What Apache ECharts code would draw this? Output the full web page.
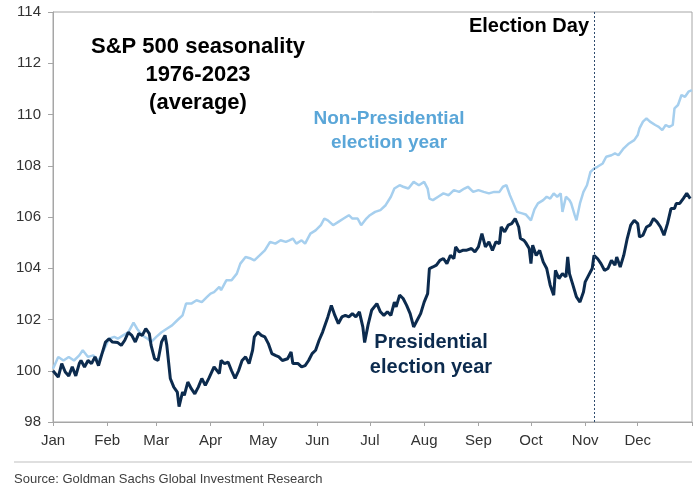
<!DOCTYPE html>
<html>
<head>
<meta charset="utf-8">
<script src="https://cdn.jsdelivr.net/npm/echarts@6/dist/echarts.min.js"></script>
<style>
  html, body { margin: 0; padding: 0; background: #fff; }
  #chart { width: 699px; height: 489px; }
</style>
</head>
<body>
<div id="chart"></div>
<script>
// month ticks, day of year (non-leap)
var monthStarts = [0, 31, 59, 90, 120, 151, 181, 212, 243, 273, 304, 334, 365];
var monthLabels = ['Jan', 'Feb', 'Mar', 'Apr', 'May', 'Jun', 'Jul', 'Aug', 'Sep', 'Oct', 'Nov', 'Dec'];
var electionDay = 309;

// Presidential election year
var presDays = [0,3,5,7,9,11,13,15,16,18,20,22,24,26,28,30,32,34,35,37,39,41,43,45,47,49,51,53,55,56,58,60,62,64,65,67,69,71,72,74,75,77,79,81,83,85,87,89,92,95,96,98,100,102,104,106,108,110,112,114,115,117,119,121,123,125,127,129,131,134,136,137,140,142,144,146,148,150,152,154,155,157,159,161,163,165,167,169,171,173,175,177,178,180,182,185,187,189,191,193,195,196,198,200,202,204,206,208,210,212,214,215,217,219,221,223,225,227,229,230,232,234,236,237,239,241,243,245,247,249,251,253,255,256,258,260,262,264,266,267,269,270,272,273,274,276,278,280,282,284,286,287,289,291,293,294,295,297,299,301,303,304,306,308,309,311,313,315,317,319,321,322,324,326,328,330,332,334,335,337,339,341,343,345,347,349,351,353,355,356,358,360,362,364];
var presValues = [100.0,99.75,100.28,99.95,99.8,100.15,99.8,100.28,100.4,100.15,100.4,100.28,100.54,100.2,100.67,101.12,101.25,101.12,101.06,101.1,100.99,101.19,101.5,101.38,101.12,101.45,101.38,101.64,101.45,101.0,100.47,100.4,101.12,101.38,101.0,99.7,99.36,99.17,98.6,99.17,99.04,99.56,99.3,99.1,99.36,99.7,99.43,99.7,100.15,99.89,100.4,100.28,100.34,100.0,99.7,100.0,100.4,100.54,100.28,100.8,101.32,101.51,101.38,101.32,101.06,100.67,100.6,100.54,100.4,100.47,100.73,100.28,100.28,100.15,100.2,100.4,100.67,100.8,101.19,101.51,101.71,102.1,102.55,102.16,101.84,102.1,102.16,102.1,102.23,102.1,102.3,101.7,101.1,101.8,102.36,102.62,102.3,102.16,102.3,102.16,102.68,102.49,102.95,102.82,102.55,102.23,101.71,101.97,102.23,102.68,103.01,103.99,104.05,104.12,104.31,104.38,104.18,104.5,104.38,104.83,104.64,104.7,104.7,104.7,104.77,104.64,104.83,105.35,104.83,105.03,104.7,105.03,104.96,105.61,105.42,105.68,105.74,105.94,105.61,105.16,105.09,105.0,104.77,104.18,104.9,104.5,104.7,104.25,103.99,103.34,102.95,103.92,103.6,103.79,103.66,104.44,103.79,103.34,102.88,102.68,103.07,103.47,103.73,103.99,104.5,104.38,104.18,103.92,103.99,104.31,104.12,104.44,104.05,104.5,105.16,105.68,105.87,105.74,105.22,105.29,105.61,105.68,105.94,105.81,105.61,105.29,105.74,106.33,106.33,106.53,106.53,106.72,106.92,106.72];

// Non-presidential election year
var nonDays = [0,3,6,9,12,15,17,20,23,26,29,32,35,37,40,43,46,48,51,54,56,59,62,65,68,71,74,76,79,82,85,88,90,92,95,96,99,102,105,107,110,113,115,118,121,124,127,130,133,135,137,139,142,144,147,150,153,155,157,160,163,166,169,171,174,176,179,181,184,187,190,193,195,198,200,203,206,209,212,214,215,217,220,223,226,229,232,235,237,240,243,246,249,252,255,257,259,261,263,265,268,270,273,275,277,280,282,284,286,288,290,291,293,295,296,298,299,301,303,305,307,309,311,314,316,319,321,323,326,329,332,334,335,337,339,341,344,346,348,350,352,354,355,357,359,361,363,365];
var nonValues = [100.08,100.54,100.4,100.54,100.4,100.6,100.8,100.54,100.6,100.4,100.8,101.25,101.32,101.25,101.38,101.5,101.88,101.64,101.38,101.25,101.12,101.32,101.5,101.64,101.77,101.97,102.16,102.62,102.62,102.75,102.68,102.88,103.01,103.07,103.27,103.14,103.53,103.53,103.79,104.18,104.44,104.38,104.31,104.5,104.7,105.03,104.96,105.09,105.03,105.09,105.16,104.96,105.09,104.96,105.35,105.48,105.68,105.94,105.87,105.68,105.81,105.94,106.07,105.94,105.94,105.68,105.94,106.07,106.2,106.27,106.46,106.79,107.11,107.24,107.18,107.11,107.37,107.24,107.37,107.11,106.72,106.66,106.79,106.92,106.85,107.05,106.98,107.11,107.18,106.98,107.05,106.98,106.92,106.98,106.98,107.18,107.24,106.85,106.53,106.2,106.14,106.1,105.87,106.3,106.53,106.66,106.79,106.72,106.92,106.79,106.92,106.2,106.79,106.66,106.53,106.07,105.87,106.53,106.98,107.24,107.76,107.89,107.96,108.09,108.35,108.41,108.48,108.41,108.68,108.87,109.0,109.2,109.46,109.72,109.85,109.72,109.59,109.52,109.39,109.59,109.52,109.59,110.24,110.37,110.76,110.69,110.89,110.95];

function pairs(days, vals) {
  var out = [];
  for (var i = 0; i < days.length; i++) {
    out.push([days[i], vals[i]]);
  }
  return out;
}

var myChart = echarts.init(document.getElementById('chart'));
var axisColor = '#a6a6a6';
var font = 'Arial, "Liberation Sans", sans-serif';

var option = {
  animation: false,
  backgroundColor: '#fff',
  grid: {
    left: 53, right: 7, top: 12, bottom: 67,
    show: true, borderColor: axisColor, borderWidth: 1
  },
  xAxis: {
    type: 'value',
    min: 0,
    max: 365,
    axisLine: { show: true, lineStyle: { color: axisColor, width: 1 } },
    axisTick: { show: true, length: 4, customValues: monthStarts, lineStyle: { color: axisColor } },
    axisLabel: {
      customValues: monthStarts.slice(0, 12),
      color: '#333', fontSize: 15, fontFamily: font, margin: 11,
      formatter: function(v) {
        var i = monthStarts.indexOf(v);
        return i >= 0 && i < 12 ? monthLabels[i] : '';
      }
    },
    splitLine: { show: false }
  },
  yAxis: {
    type: 'value',
    min: 98,
    max: 114,
    interval: 2,
    axisLine: { show: true, lineStyle: { color: axisColor, width: 1 } },
    axisTick: { show: true, length: 5, lineStyle: { color: axisColor } },
    axisLabel: { color: '#333', fontSize: 15, fontFamily: font, margin: 12 },
    splitLine: { show: false }
  },
  series: [
    {
      name: 'Non-Presidential election year',
      type: 'line',
      data: pairs(nonDays, nonValues),
      showSymbol: false,
      lineStyle: { color: '#a6cfee', width: 2.5 },
      z: 2
    },
    {
      name: 'Presidential election year',
      type: 'line',
      data: pairs(presDays, presValues),
      showSymbol: false,
      lineStyle: { color: '#0c2b4e', width: 3 },
      z: 3,
      markLine: {
        silent: true,
        symbol: 'none',
        label: { show: false },
        lineStyle: { type: [2, 2], color: '#2f4c6e', width: 1 },
        data: [{ xAxis: electionDay }]
      }
    }
  ],
  graphic: [
    {
      type: 'text', x: 198, y: 33,
      style: {
        text: 'S&P 500 seasonality\n1976-2023\n(average)',
        font: 'bold 22px ' + font, fill: '#000', align: 'center', lineHeight: 28
      }
    },
    {
      type: 'text', x: 589, y: 16,
      style: { text: 'Election Day', font: 'bold 20px ' + font, fill: '#000', align: 'right' }
    },
    {
      type: 'text', x: 389, y: 107,
      style: {
        text: 'Non-Presidential\nelection year',
        font: 'bold 19px ' + font, fill: '#5aa6d8', align: 'center', lineHeight: 24
      }
    },
    {
      type: 'text', x: 431, y: 330,
      style: {
        text: 'Presidential\nelection year',
        font: 'bold 20px ' + font, fill: '#0c2b4e', align: 'center', lineHeight: 25
      }
    },
    {
      type: 'line',
      shape: { x1: 14, y1: 462, x2: 692, y2: 462 },
      style: { stroke: '#bfbfbf', lineWidth: 1 }
    },
    {
      type: 'text', x: 14, y: 473,
      style: {
        text: 'Source: Goldman Sachs Global Investment Research',
        font: '13px ' + font, fill: '#404040'
      }
    }
  ]
};
myChart.setOption(option);
</script>
</body>
</html>
